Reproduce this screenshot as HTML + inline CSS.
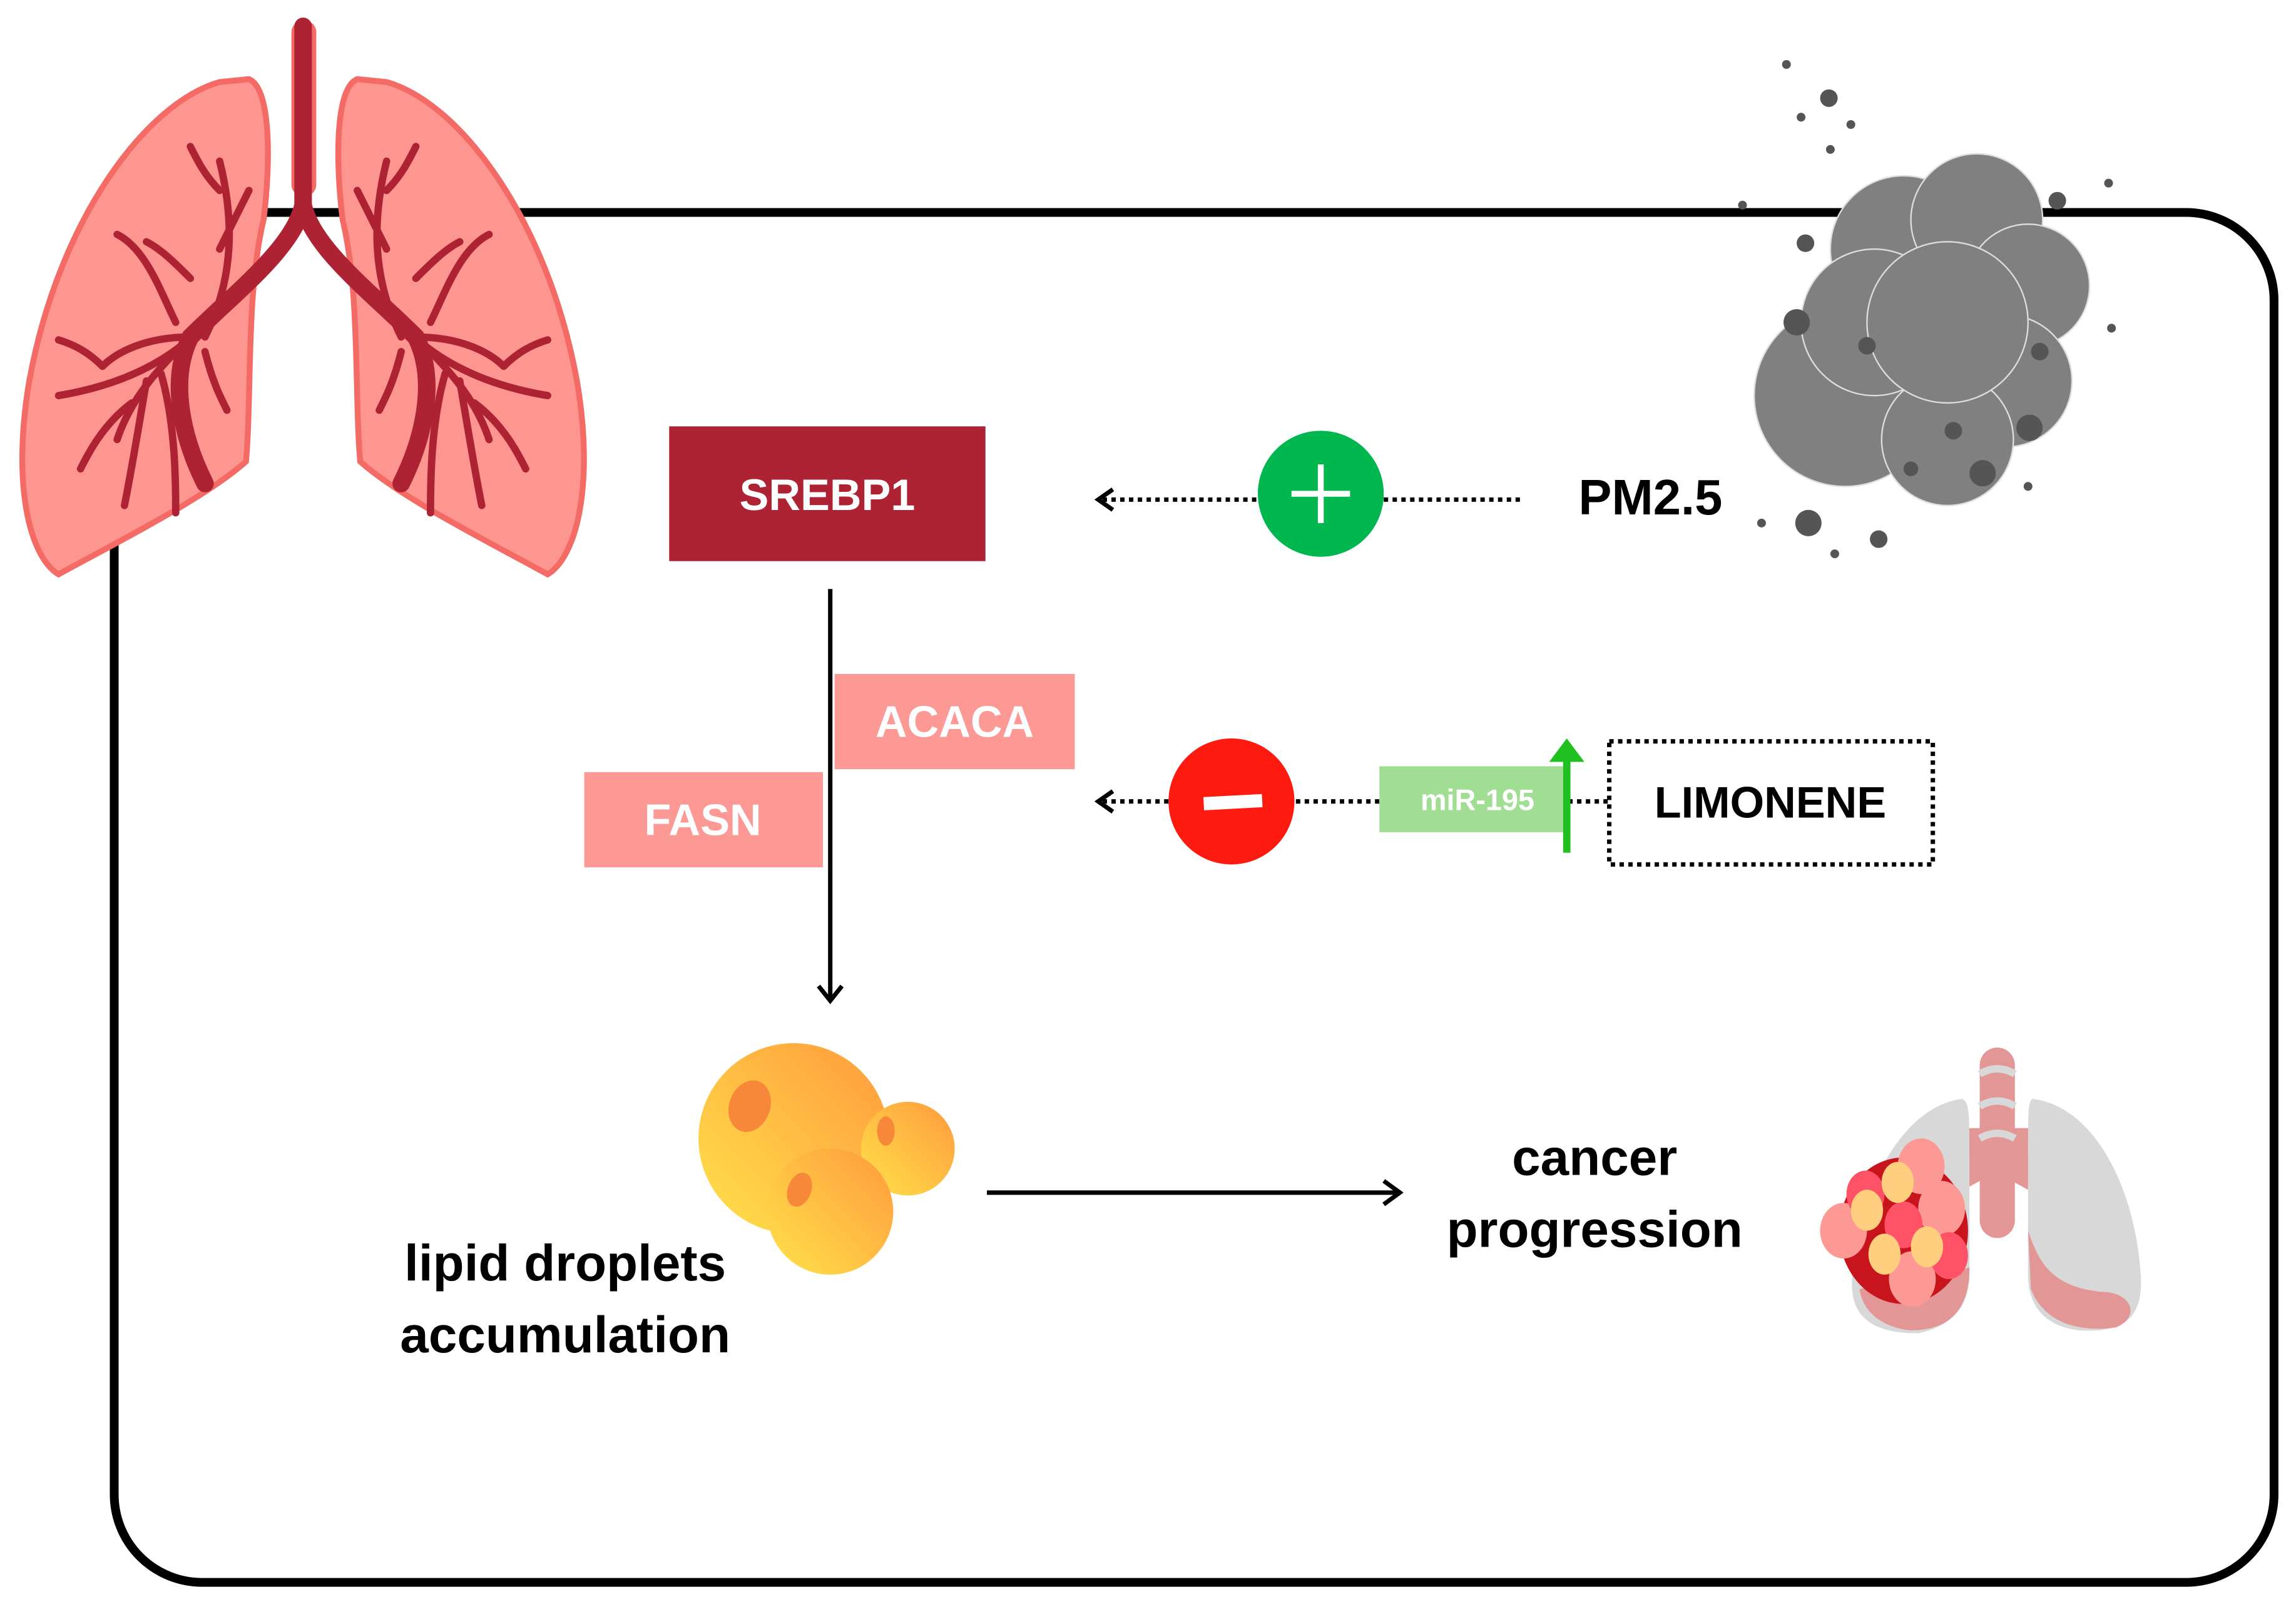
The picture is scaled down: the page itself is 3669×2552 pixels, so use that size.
<!DOCTYPE html>
<html><head><meta charset="utf-8"><style>
html,body{margin:0;padding:0;background:#fff;}
svg{display:block;}
text{font-family:"Liberation Sans",sans-serif;font-weight:bold;}
</style></head><body>
<svg width="3669" height="2552" viewBox="0 0 1568 1090" preserveAspectRatio="none" xmlns="http://www.w3.org/2000/svg">
<defs>
<linearGradient id="dg" x1="0" y1="1" x2="1" y2="0"><stop offset="0" stop-color="#ffe24a"/><stop offset="1" stop-color="#ff9a3c"/></linearGradient>
</defs>
<rect x="78" y="145" width="1475" height="935" rx="60" fill="none" stroke="#000" stroke-width="6"/>
<g>
<path d="M150,56 C100,70 40,150 20,260 C8,330 20,380 40,392 C80,370 140,340 168,315 C172,270 168,200 180,150 C185,110 185,60 170,54 Z" fill="#fd9590" stroke="#f46a64" stroke-width="4"/>
<path d="M264,56 C314,70 374,150 394,260 C406,330 394,380 374,392 C334,370 274,340 246,315 C242,270 246,200 234,150 C229,110 229,60 244,54 Z" fill="#fd9590" stroke="#f46a64" stroke-width="4"/>
<rect x="199" y="14" width="17" height="120" rx="8" fill="#f46a64"/>
<g stroke="#ae2334" fill="none" stroke-linecap="round">
<path d="M207,18 L207,140 C200,170 160,200 130,230 C115,260 125,300 140,330" stroke-width="12"/>
<path d="M207,140 C214,170 254,200 284,230 C299,260 289,300 274,330" stroke-width="12"/>
<path d="M130,230 C110,250 90,270 80,300 M130,230 C100,230 80,240 70,250 M140,230 C160,190 160,150 150,110 M120,220 C110,200 100,170 80,160 M125,235 C100,255 70,265 40,270 M140,240 C145,260 150,270 155,280 M100,260 C95,290 90,320 85,345 M110,255 C120,290 120,330 120,350 M150,170 C160,150 165,140 170,130 M130,190 C120,180 110,170 100,165 M150,130 C140,120 135,110 130,100 M70,250 C60,240 50,235 40,232 M90,275 C70,290 60,310 55,320" stroke-width="5"/>
<path d="M284,230 C304,250 324,270 334,300 M284,230 C314,230 334,240 344,250 M274,230 C254,190 254,150 264,110 M294,220 C304,200 314,170 334,160 M289,235 C314,255 344,265 374,270 M274,240 C269,260 264,270 259,280 M314,260 C319,290 324,320 329,345 M304,255 C294,290 294,330 294,350 M264,170 C254,150 249,140 244,130 M284,190 C294,180 304,170 314,165 M264,130 C274,120 279,110 284,100 M344,250 C354,240 364,235 374,232 M324,275 C344,290 354,310 359,320" stroke-width="5"/>
</g>
</g>
<g fill="#808080" stroke="#ddd" stroke-width="1">
<circle cx="1260" cy="270" r="62"/><circle cx="1300" cy="170" r="50"/><circle cx="1350" cy="150" r="45"/><circle cx="1385" cy="195" r="42"/><circle cx="1370" cy="260" r="45"/><circle cx="1330" cy="300" r="45"/><circle cx="1280" cy="220" r="50"/><circle cx="1330" cy="220" r="55"/>
</g>
<g fill="#555">
<circle cx="1249" cy="67" r="6"/><circle cx="1220" cy="44" r="3"/><circle cx="1230" cy="80" r="3"/><circle cx="1264" cy="85" r="3"/><circle cx="1250" cy="102" r="3"/><circle cx="1227" cy="220" r="9"/><circle cx="1235" cy="357" r="9"/><circle cx="1283" cy="368" r="6"/><circle cx="1253" cy="378" r="3"/><circle cx="1354" cy="323" r="9"/><circle cx="1386" cy="292" r="9"/><circle cx="1334" cy="294" r="6"/><circle cx="1305" cy="320" r="5"/><circle cx="1275" cy="236" r="6"/><circle cx="1233" cy="166" r="6"/><circle cx="1405" cy="137" r="6"/><circle cx="1440" cy="125" r="3"/><circle cx="1442" cy="224" r="3"/><circle cx="1385" cy="332" r="3"/><circle cx="1203" cy="357" r="3"/><circle cx="1190" cy="140" r="3"/><circle cx="1393" cy="240" r="6"/>
</g>
<rect x="457" y="291" width="216" height="92" fill="#ae2334"/>
<text x="565" y="348" font-size="30" fill="#fff" text-anchor="middle">SREBP1</text>
<line x1="1038" y1="341" x2="752" y2="341" stroke="#000" stroke-width="3" stroke-dasharray="3,3"/>
<path d="M760,334 L750,341 L760,348" fill="none" stroke="#000" stroke-width="3"/>
<circle cx="902" cy="337" r="43" fill="#00b64f"/>
<path d="M902,317 V357 M882,337 H922" stroke="#fff" stroke-width="4"/>
<text x="1078" y="351" font-size="34" fill="#000">PM2.5</text>
<line x1="567" y1="402" x2="567" y2="682" stroke="#000" stroke-width="3"/>
<path d="M559,673 L567,683 L575,673" fill="none" stroke="#000" stroke-width="3"/>
<rect x="570" y="460" width="164" height="65" fill="#fc9994"/>
<text x="652" y="503" font-size="30" fill="#fff" text-anchor="middle">ACACA</text>
<rect x="399" y="527" width="163" height="65" fill="#fc9994"/>
<text x="480" y="570" font-size="30" fill="#fff" text-anchor="middle">FASN</text>
<line x1="1098" y1="547" x2="752" y2="547" stroke="#000" stroke-width="3" stroke-dasharray="3,3"/>
<path d="M760,540 L750,547 L760,554" fill="none" stroke="#000" stroke-width="3"/>
<circle cx="841" cy="547" r="43" fill="#ff1a10"/>
<rect x="822" y="543" width="40" height="9" fill="#fff" transform="rotate(-3 842 547)"/>
<rect x="942" y="523" width="126" height="45" fill="#a0de94"/>
<text x="1009" y="553" font-size="20" fill="#fff" text-anchor="middle">miR-195</text>
<line x1="1070" y1="582" x2="1070" y2="515" stroke="#1fc01f" stroke-width="5"/>
<path d="M1058,520 L1070,504 L1082,520 Z" fill="#1fc01f"/>
<rect x="1099" y="506" width="221" height="84" fill="#fff" stroke="#000" stroke-width="3" stroke-dasharray="3,3"/>
<text x="1209" y="558" font-size="30" fill="#000" text-anchor="middle">LIMONENE</text>
<circle cx="542" cy="777" r="65" fill="url(#dg)"/>
<circle cx="620" cy="784" r="32" fill="url(#dg)"/>
<circle cx="567" cy="827" r="43" fill="url(#dg)"/>
<ellipse cx="512" cy="755" rx="14" ry="18" fill="#f7883a" transform="rotate(20 512 755)"/>
<ellipse cx="605" cy="772" rx="6" ry="10" fill="#f7883a"/>
<ellipse cx="546" cy="812" rx="8" ry="12" fill="#f7883a" transform="rotate(20 546 812)"/>
<text x="386" y="874" font-size="35" fill="#000" text-anchor="middle">lipid droplets</text>
<text x="386" y="923" font-size="35" fill="#000" text-anchor="middle">accumulation</text>
<line x1="674" y1="814" x2="955" y2="814" stroke="#000" stroke-width="3"/>
<path d="M945,806 L956,814 L945,822" fill="none" stroke="#000" stroke-width="3"/>
<text x="1089" y="802" font-size="35" fill="#000" text-anchor="middle">cancer</text>
<text x="1089" y="851" font-size="35" fill="#000" text-anchor="middle">progression</text>
<g>
<rect x="1352" y="715" width="24" height="130" rx="12" fill="#e29695"/>
<path d="M1343,770 L1340,790 L1270,830 L1290,840 L1363,800 L1436,840 L1455,830 L1388,790 L1385,770 Z" fill="#e29695"/>
<g stroke="#d8d8d8" stroke-width="5" fill="none"><path d="M1352,733 Q1364,726 1376,733 M1352,755 Q1364,748 1376,755 M1352,777 Q1364,770 1376,777"/></g>
<path d="M1340,750 C1300,755 1270,810 1265,870 C1262,900 1280,910 1310,910 C1335,905 1345,890 1345,870 L1345,790 C1345,760 1345,752 1340,750 Z" fill="#d8d8d8"/>
<path d="M1388,750 C1430,755 1458,810 1462,870 C1464,900 1450,910 1420,908 C1395,905 1385,890 1385,870 L1385,790 C1385,760 1385,752 1388,750 Z" fill="#d8d8d8"/>
<path d="M1270,880 C1300,870 1330,870 1345,865 C1345,895 1330,908 1305,908 C1285,906 1272,895 1270,880 Z" fill="#e29695"/>
<path d="M1385,840 C1392,860 1400,880 1440,882 C1458,885 1460,900 1445,906 C1415,910 1395,900 1387,880 Z" fill="#e29695"/>
<ellipse cx="1300" cy="840" rx="44" ry="50" fill="#c8141c"/>
<g fill="#fc9994"><ellipse cx="1312" cy="796" rx="16" ry="19"/><ellipse cx="1326" cy="825" rx="16" ry="19"/><ellipse cx="1259" cy="840" rx="16" ry="19"/><ellipse cx="1306" cy="873" rx="16" ry="19"/></g>
<g fill="#ff5266"><ellipse cx="1274" cy="815" rx="13" ry="16"/><ellipse cx="1300" cy="836" rx="13" ry="16"/><ellipse cx="1331" cy="857" rx="13" ry="16"/></g>
<g fill="#ffce7e"><ellipse cx="1296" cy="807" rx="11" ry="14"/><ellipse cx="1275" cy="826" rx="11" ry="14"/><ellipse cx="1287" cy="856" rx="11" ry="14"/><ellipse cx="1316" cy="851" rx="11" ry="14"/></g>
</g>
</svg>
</body></html>
